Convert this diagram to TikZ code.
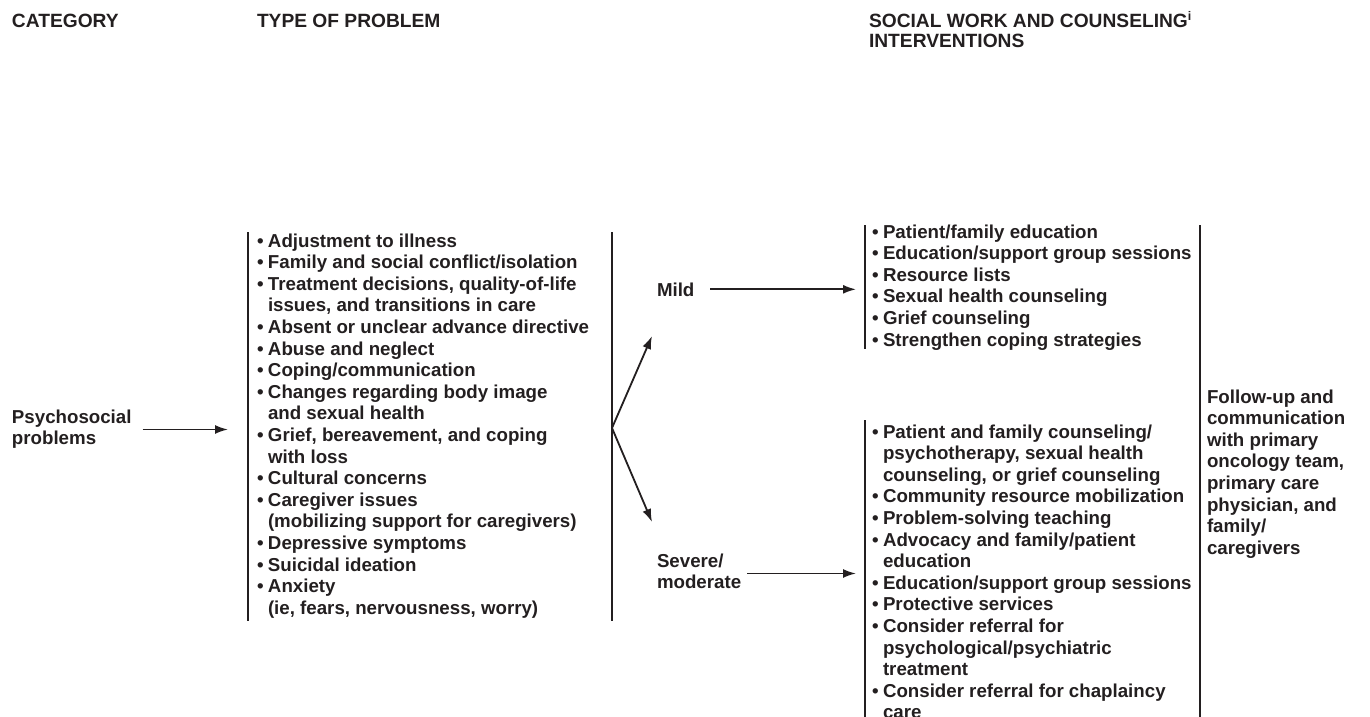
\documentclass[tikz,border=0pt]{standalone}
\usepackage{fontspec}
\setmainfont{Liberation Sans}
\usetikzlibrary{arrows.meta}
\definecolor{ink}{HTML}{231F20}
\newcommand{\bodyfont}{\fontsize{18.7}{21.6}\selectfont\bfseries}
\newcommand{\headfont}{\fontsize{19.2}{16.8}\selectfont\bfseries}
\newcommand{\bl}{\makebox[11pt][l]{•}}
\newcommand{\ct}{\hspace*{11pt}}
\newcommand{\lst}[1]{\begin{tabular}[t]{@{}l@{}}#1\end{tabular}}
\tikzset{
  txt/.style={inner sep=0pt, outer sep=0pt, text=ink, anchor=base west, font=\bodyfont},
  head/.style={txt, font=\headfont},
  arr/.style={draw=ink, line width=1.8pt, -{Latex[length=13pt,width=9pt]}},
  bar/.style={draw=ink, line width=2pt}
}
\begin{document}
\begin{tikzpicture}[x=1pt,y=-1pt]
\useasboundingbox (0,0) rectangle (1370,717);
% headers
\node[head] (hcat) at (12,28) {CATEGORY};
\node[head] (htype) at (257,28) {TYPE OF PROBLEM};
\node[head] (hsoc) at (869,28) {\lst{SOCIAL WORK AND COUNSELING\raisebox{7.5pt}{\fontsize{12.5}{12.5}\selectfont i}\\[0.8pt]INTERVENTIONS}};
% category
\node[txt] (psych) at (12,423) {\lst{Psychosocial\\problems}};
% problem list
\node[txt] (probs) at (257,247) {\lst{%
\bl Adjustment to illness\\
\bl Family and social conflict/isolation\\
\bl Treatment decisions, quality-of-life\\
\ct issues, and transitions in care\\
\bl Absent or unclear advance directive\\
\bl Abuse and neglect\\
\bl Coping/communication\\
\bl Changes regarding body image\\
\ct and sexual health\\
\bl Grief, bereavement, and coping\\
\ct with loss\\
\bl Cultural concerns\\
\bl Caregiver issues\\
\ct (mobilizing support for caregivers)\\
\bl Depressive symptoms\\
\bl Suicidal ideation\\
\bl Anxiety\\
\ct (ie, fears, nervousness, worry)}};
% severity labels
\node[txt] (mild) at (657,296) {Mild};
\node[txt] (sev) at (657,567) {\lst{Severe/\\moderate}};
% interventions
\node[txt] (mildl) at (872,238) {\lst{%
\bl Patient/family education\\
\bl Education/support group sessions\\
\bl Resource lists\\
\bl Sexual health counseling\\
\bl Grief counseling\\
\bl Strengthen coping strategies}};
\node[txt] (sevl) at (872,438) {\lst{%
\bl Patient and family counseling/\\
\ct psychotherapy, sexual health\\
\ct counseling, or grief counseling\\
\bl Community resource mobilization\\
\bl Problem-solving teaching\\
\bl Advocacy and family/patient\\
\ct education\\
\bl Education/support group sessions\\
\bl Protective services\\
\bl Consider referral for\\
\ct psychological/psychiatric\\
\ct treatment\\
\bl Consider referral for chaplaincy\\
\ct care}};
\node[txt] (follow) at (1207,403) {\lst{Follow-up and\\communication\\with primary\\oncology team,\\primary care\\physician, and\\family/\\caregivers}};
% bracket bars
\draw[bar] (248,232) -- (248,621);
\draw[bar] (612,232) -- (612,621);
\draw[bar] (865,225) -- (865,349);
\draw[bar] (865,420) -- (865,717);
\draw[bar] (1200,225) -- (1200,717);
% connectors
\coordinate (pEnd) at (228,0);
\coordinate (lEnd) at (856,0);
\coordinate (br) at (612,428);
\coordinate (mTip) at (652,336);
\coordinate (sTip) at (652,522);
\draw[arr] ([xshift=11pt]psych.east) -- (psych.east -| pEnd);
\draw[arr] (br) -- (mTip);
\draw[arr] (br) -- (sTip);
\draw[arr] ([xshift=16pt]mild.east) -- (mild.east -| lEnd);
\draw[arr] ([xshift=6pt]sev.east) -- (sev.east -| lEnd);
\end{tikzpicture}
\end{document}
